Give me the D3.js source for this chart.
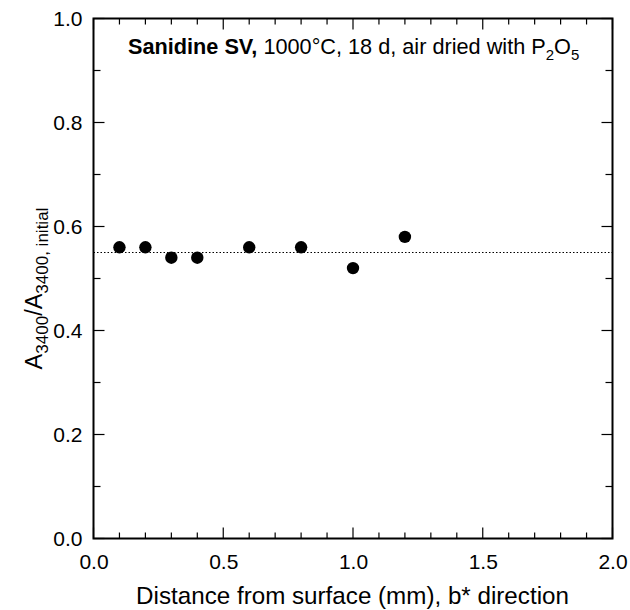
<!DOCTYPE html>
<html><head><meta charset="utf-8">
<script src="https://cdn.jsdelivr.net/npm/d3@7"></script>
<style>body{margin:0;background:#fff}svg{display:block}text{font-family:"Liberation Sans",Arial,sans-serif}</style>
</head><body><svg id="c" width="630" height="610"></svg>
<script>
const distance = [0.1, 0.2, 0.3, 0.4, 0.6, 0.8, 1.0, 1.2];
const ratio = [0.56, 0.56, 0.54, 0.54, 0.56, 0.56, 0.52, 0.58];
const meanRatio = 0.55;
const xTicks = [0, 0.5, 1.0, 1.5, 2.0];
const yTicks = [0, 0.2, 0.4, 0.6, 0.8, 1.0];

const svg = d3.select("#c");
const L = 93.5, R = 612.5, T = 18.5, B = 538.5;
const x = d3.scaleLinear().domain([0, 2]).range([L, R]);
const y = d3.scaleLinear().domain([0, 1]).range([B, T]);

const fmt = d3.format(".1f");
const xMinor = d3.range(0, 2.0001, 0.1);
const yMinor = d3.range(0, 1.0001, 0.1);

// bottom axis labels
const gb = svg.append("g").attr("transform", `translate(0,${B})`)
  .call(d3.axisBottom(x).tickValues(xTicks).tickFormat(fmt).tickSize(0).tickPadding(16));
gb.select(".domain").remove();
gb.selectAll("text").attr("font-size", 21).attr("fill", "#000");
// left axis labels
const gl = svg.append("g").attr("transform", `translate(${L},0)`)
  .call(d3.axisLeft(y).tickValues(yTicks).tickFormat(fmt).tickSize(0).tickPadding(11));
gl.select(".domain").remove();
gl.selectAll("text").attr("font-size", 21).attr("fill", "#000");

// inward ticks on all four sides
const tk = svg.append("g").attr("stroke", "#000").attr("stroke-width", 1.2);
xMinor.forEach(v => {
  const major = xTicks.some(t => Math.abs(t - v) < 1e-6);
  const len = major ? 11 : 6;
  tk.append("line").attr("x1", x(v)).attr("x2", x(v)).attr("y1", B).attr("y2", B - len);
  tk.append("line").attr("x1", x(v)).attr("x2", x(v)).attr("y1", T).attr("y2", T + len);
});
yMinor.forEach(v => {
  const major = yTicks.some(t => Math.abs(t - v) < 1e-6);
  const len = major ? 11 : 7;
  tk.append("line").attr("y1", y(v)).attr("y2", y(v)).attr("x1", L).attr("x2", L + len);
  tk.append("line").attr("y1", y(v)).attr("y2", y(v)).attr("x1", R).attr("x2", R - len);
});

svg.append("rect").attr("x", L).attr("y", T).attr("width", R - L).attr("height", B - T)
  .attr("fill", "none").attr("stroke", "#000").attr("stroke-width", 2);

// mean dotted line
svg.append("line").attr("x1", L).attr("x2", R).attr("y1", y(meanRatio)).attr("y2", y(meanRatio))
  .attr("stroke", "#000").attr("stroke-width", 1).attr("stroke-dasharray", "1.5,2");

svg.append("g").selectAll("circle").data(distance).join("circle")
  .attr("cx", d => x(d)).attr("cy", (d, i) => y(ratio[i])).attr("r", 6.2).attr("fill", "#000");

// annotation
const ann = svg.append("text").attr("x", 128).attr("y", 54).attr("font-size", 21.7).attr("fill", "#000");
ann.append("tspan").attr("font-weight", "bold").text("Sanidine SV,");
ann.append("tspan").text(" 1000°C, 18 d, air dried with P");
ann.append("tspan").attr("font-size", 15).attr("dy", 6).text("2");
ann.append("tspan").attr("dy", -6).text("O");
ann.append("tspan").attr("font-size", 15).attr("dy", 6).text("5");

// axis titles
svg.append("text").attr("x", (L + R) / 2 - 0.5).attr("y", 604).attr("text-anchor", "middle")
  .attr("font-size", 24.2).text("Distance from surface (mm), b* direction");

const yl = svg.append("text").attr("transform", `translate(42,${(T + B) / 2 + 10}) rotate(-90)`)
  .attr("text-anchor", "middle").attr("font-size", 23.5);
yl.append("tspan").text("A");
yl.append("tspan").attr("font-size", 17).attr("dy", 6).text("3400");
yl.append("tspan").attr("dy", -6).text("/A");
yl.append("tspan").attr("font-size", 17).attr("dy", 6).text("3400, initial");
</script></body></html>
